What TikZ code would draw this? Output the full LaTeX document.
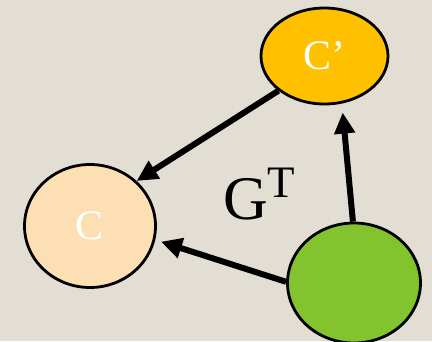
\documentclass[tikz,border=0pt]{standalone}
\usepackage{fontspec}
\setmainfont{Liberation Serif}
\usetikzlibrary{shapes.geometric,arrows.meta}
\definecolor{bgbeige}{HTML}{E3DED4}
\definecolor{cgold}{HTML}{FFC000}
\definecolor{cpeach}{HTML}{FDDFB4}
\definecolor{cgreen}{HTML}{83C32E}
\tikzset{
  vertex/.style={ellipse, draw=black, line width=2.8pt, inner sep=0pt,
    text=white, font=\fontsize{42}{42}\selectfont},
  edgearrow/.style={line width=6pt, draw=black,
    -{Triangle[length=21pt,width=20pt]}},
}
\begin{document}
\begin{tikzpicture}[x=1pt,y=-1pt]
  \useasboundingbox (0,0) rectangle (432,341);
  \clip (0,0) rectangle (432,341);
  \fill[bgbeige] (0,0) rectangle (432,341);

  % vertices
  \node[vertex, fill=cgold, minimum width=127pt, minimum height=96pt] (cp) at (324.5,56) {C’};
  \node[vertex, fill=cpeach, minimum width=131pt, minimum height=123pt] (c) at (90,226) {C};
  \node[vertex, fill=cgreen, minimum width=133pt, minimum height=120pt] (g) at (354,283) {};

  % label of the transposed graph
  \node[anchor=base west, inner sep=0pt] (gt) at (223,219)
    {\fontsize{62}{62}\selectfont G\raisebox{22pt}{\fontsize{45}{45}\selectfont T}};

  % edges
  \draw[edgearrow] (cp.217) -- (c.44);
  \draw[edgearrow, shorten >=9pt] (g.91) -- (cp.-70);
  \draw[edgearrow, shorten >=6pt] (g.179) -- (c.-12);
\end{tikzpicture}
\end{document}
